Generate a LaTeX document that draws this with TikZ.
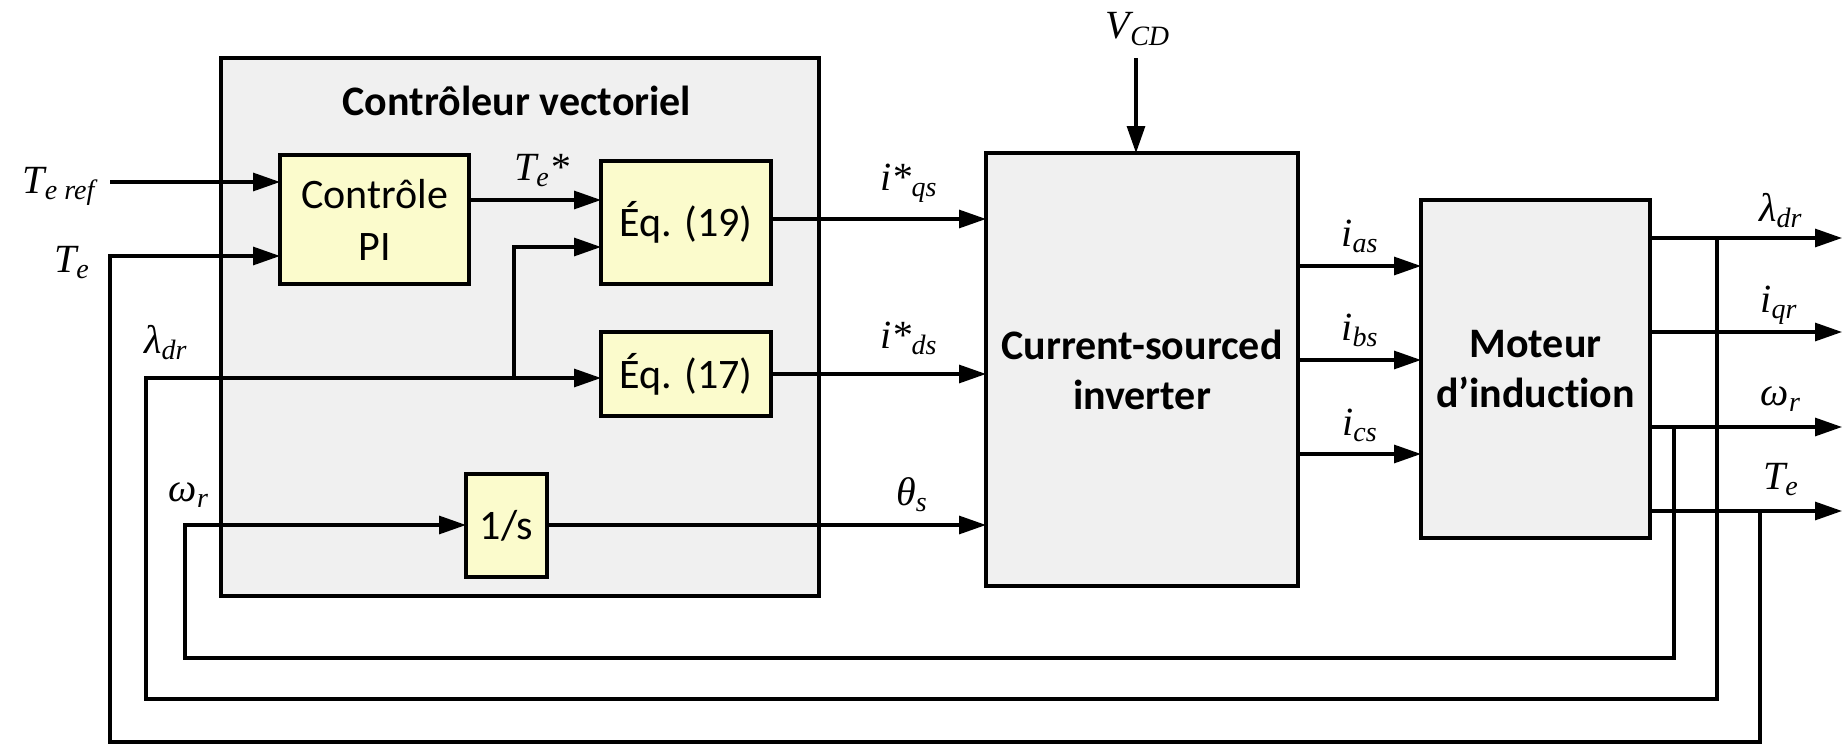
\documentclass[tikz,border=0pt]{standalone}
\usepackage{fontspec}
\setmainfont{Carlito}[Ligatures={NoCommon}]
\newfontfamily\lfont{Liberation Serif}
\usetikzlibrary{arrows.meta}
\definecolor{boxgray}{RGB}{240,240,240}
\definecolor{boxyellow}{RGB}{251,251,204}
\begin{document}
\begin{tikzpicture}[x=0.5pt,y=-0.5pt,
  every node/.style={inner sep=0pt,outer sep=0pt},
  ln/.style={line width=1.55pt,line join=miter},
  arr/.style={ln,-{Triangle[length=13.5pt,width=9pt]}},
  blk/.style={draw,line width=1.6pt,fill=boxyellow,align=center,font=\fontsize{21}{26}\selectfont},
  big/.style={draw,line width=1.6pt,fill=boxgray,align=center,font=\bfseries\fontsize{21}{25}\selectfont},
  lab/.style={anchor=base,font=\lfont\itshape\fontsize{20}{24}\selectfont}]
\useasboundingbox (0,0) rectangle (1844,744);
% helper levels
\foreach \yy in {182,200,219,247,256,266,360,374,378,454,525}{\coordinate (y\yy) at (0,\yy);}
% controller frame
\node[big,line width=1.7pt,minimum width=299pt,minimum height=269pt] (ctrl) at (520,327) {};
\node[anchor=base,font=\bfseries\fontsize{21}{25}\selectfont] (title) at (517,115) {Contrôleur vectoriel};
% blocks
\node[blk,minimum width=94.5pt,minimum height=64.5pt] (PI) at (374.5,219.5) {Contrôle\\PI};
\node[blk,minimum width=85pt,minimum height=61.5pt] (eq19) at (686,222.5) {Éq. (19)};
\node[blk,minimum width=85pt,minimum height=42pt] (eq17) at (686,374) {Éq. (17)};
\node[blk,minimum width=40.5pt,minimum height=51.5pt] (integ) at (506.5,525.5) {1/s};
\node[big,minimum width=156pt,minimum height=216.5pt] (inv) at (1142,369.5) {Current-sourced\\inverter};
\node[big,minimum width=114.5pt,minimum height=169pt] (mot) at (1535.5,369) {Moteur\\d’induction};
% free ends
\coordinate (terefIn) at (110,182);
\coordinate (vcd) at (1136,58);
\coordinate (teTap) at (1760,511);
\coordinate (ldTap) at (1717,238);
\coordinate (wTap) at (1674,427);
\coordinate (br) at (514,378);
\coordinate (o1) at (1842,238);
\coordinate (o2) at (1842,332);
\coordinate (o3) at (1842,427);
\coordinate (o4) at (1842,511);
% connectors
\draw[arr] (terefIn) -- (PI.west |- y182);
\draw[arr] (teTap) -- (1760,742) -| (110,256) -- (PI.west |- y256);
\draw[arr] (ldTap) -- (1717,699) -| (146,378) -- (eq17.west |- y378);
\draw[arr] (br) |- (eq19.west |- y247);
\draw[arr] (wTap) -- (1674,658) -| (185,525) -- (integ.west |- y525);
\draw[arr] (PI.east |- y200) -- (eq19.west |- y200);
\draw[arr] (eq19.east |- y219) -- (inv.west |- y219);
\draw[arr] (eq17.east |- y374) -- (inv.west |- y374);
\draw[arr] (integ.east |- y525) -- (inv.west |- y525);
\draw[arr] (vcd) -- (vcd |- inv.north);
\draw[arr] (inv.east |- y266) -- (mot.west |- y266);
\draw[arr] (inv.east |- y360) -- (mot.west |- y360);
\draw[arr] (inv.east |- y454) -- (mot.west |- y454);
\draw[arr] (mot.east |- o1) -- (o1);
\draw[arr] (mot.east |- o2) -- (o2);
\draw[arr] (mot.east |- o3) -- (o3);
\draw[arr] (mot.east |- o4) -- (o4);
% labels
\node[lab] (lTeref) at (59,193) {T\textsubscript{e ref}};
\node[lab] (lTe) at (72,272) {T\textsubscript{e}};
\node[lab] (lLd) at (166,353) {λ\textsubscript{dr}};
\node[lab] (lWr) at (189,501) {ω\textsubscript{r}};
\node[lab] (lTes) at (542,180) {T\textsubscript{e}*};
\node[lab] (lIqs) at (909,190) {i*\textsubscript{qs}};
\node[lab] (lIds) at (909,348) {i*\textsubscript{ds}};
\node[lab] (lTh) at (912,505) {θ\textsubscript{s}};
\node[lab] (lVcd) at (1138,39) {V\textsubscript{CD}};
\node[lab] (lIas) at (1360,246) {i\textsubscript{as}};
\node[lab] (lIbs) at (1360,340) {i\textsubscript{bs}};
\node[lab] (lIcs) at (1360,435) {i\textsubscript{cs}};
\node[lab] (oLd) at (1781,221) {λ\textsubscript{dr}};
\node[lab] (oIqr) at (1779,312) {i\textsubscript{qr}};
\node[lab] (oWr) at (1781,405) {ω\textsubscript{r}};
\node[lab] (oTe) at (1781,489) {T\textsubscript{e}};
\end{tikzpicture}
\end{document}
